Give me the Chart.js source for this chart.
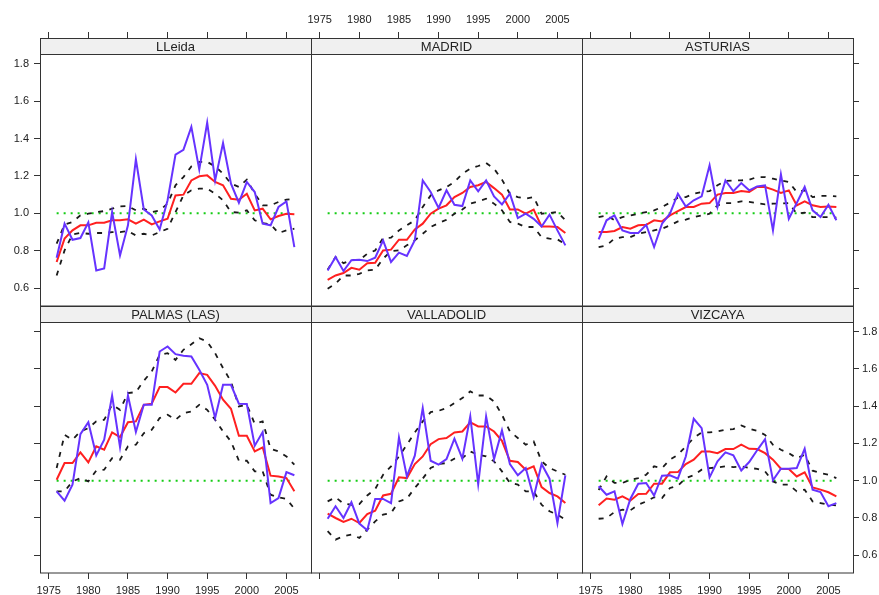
<!DOCTYPE html>
<html>
<head>
<meta charset="utf-8">
<script src="https://cdn.jsdelivr.net/npm/chart.js@4.4.0/dist/chart.umd.min.js"></script>
<style>
  html, body { margin: 0; padding: 0; background: #fff; }
  #wrap { position: relative; width: 879px; height: 595px; overflow: hidden; background: #fff; }
  #wrap canvas { position: absolute; left: 0; top: 0; }
</style>
</head>
<body>
<div id="wrap"></div>
<script>
// ---- data -------------------------------------------------------------
const YEARS = [1976,1977,1978,1979,1980,1981,1982,1983,1984,1985,1986,1987,1988,1989,1990,
               1991,1992,1993,1994,1995,1996,1997,1998,1999,2000,2001,2002,2003,2004,2005,2006];
const YEAR_TICKS  = [1975, 1980, 1985, 1990, 1995, 2000, 2005];
const VALUE_TICKS = [0.6, 0.8, 1.0, 1.2, 1.4, 1.6, 1.8];
const REF_LEVEL = 1.0;
const PANEL_NAMES = ['LLeida', 'MADRID', 'ASTURIAS', 'PALMAS (LAS)', 'VALLADOLID', 'VIZCAYA'];

const LLEIDA_OBS = [0.763,0.945,0.859,0.868,0.952,0.695,0.706,1.007,0.775,0.936,1.289,1.021,0.989,0.914,1.07,1.314,1.34,1.462,1.234,1.485,1.176,1.376,1.159,1.057,1.168,1.114,0.945,0.936,1.034,1.064,0.82];
const LLEIDA_FIT = [0.74,0.865,0.909,0.936,0.936,0.95,0.95,0.963,0.963,0.968,0.945,0.966,0.941,0.957,0.971,1.096,1.10,1.176,1.198,1.203,1.168,1.15,1.078,1.073,1.105,1.016,1.025,0.968,0.986,0.998,0.995];
const LLEIDA_UP  = [0.838,0.941,0.954,0.989,0.998,1.007,1.012,1.025,1.037,1.039,1.016,1.025,1.007,1.016,1.052,1.15,1.194,1.251,1.275,1.275,1.251,1.212,1.159,1.141,1.18,1.105,1.043,1.043,1.061,1.073,1.078];
const LLEIDA_LO  = [0.668,0.802,0.888,0.895,0.891,0.895,0.895,0.9,0.9,0.906,0.882,0.891,0.882,0.9,0.918,1.007,1.096,1.123,1.132,1.132,1.105,1.07,1.007,1.004,1.016,0.963,0.948,0.941,0.895,0.909,0.918];

const MADRID_OBS = [0.695,0.767,0.692,0.75,0.752,0.745,0.763,0.856,0.74,0.79,0.772,0.856,1.176,1.114,1.029,1.123,1.046,1.039,1.176,1.118,1.176,1.091,1.048,1.105,0.975,0.998,0.971,0.93,0.993,0.909,0.829];
const MADRID_FIT = [0.645,0.668,0.681,0.709,0.699,0.734,0.736,0.802,0.806,0.859,0.859,0.914,0.945,0.998,1.025,1.043,1.087,1.109,1.141,1.15,1.168,1.135,1.10,1.021,1.021,0.998,1.02,0.93,0.93,0.927,0.895];
const MADRID_UP  = [0.699,0.767,0.734,0.75,0.75,0.784,0.802,0.868,0.87,0.909,0.936,0.963,1.034,1.096,1.123,1.141,1.168,1.212,1.239,1.253,1.269,1.239,1.18,1.105,1.087,1.078,1.087,0.998,1.002,1.007,0.963];
const MADRID_LO  = [0.597,0.624,0.668,0.668,0.677,0.695,0.699,0.758,0.799,0.802,0.829,0.856,0.891,0.927,0.948,0.966,0.998,1.021,1.052,1.064,1.078,1.052,1.016,0.954,0.945,0.927,0.927,0.873,0.865,0.861,0.834];

const ASTURIAS_OBS = [0.861,0.963,0.989,0.909,0.895,0.895,0.939,0.82,0.945,0.998,1.105,1.037,1.07,1.091,1.257,1.034,1.176,1.118,1.162,1.123,1.144,1.15,0.909,1.209,0.971,1.055,1.141,1.016,0.98,1.046,0.963];
const ASTURIAS_FIT = [0.9,0.9,0.906,0.927,0.918,0.936,0.939,0.963,0.957,0.989,1.012,1.034,1.034,1.052,1.055,1.10,1.109,1.109,1.119,1.114,1.141,1.141,1.127,1.109,1.123,1.043,1.064,1.043,1.034,1.037,1.034];
const ASTURIAS_UP  = [0.98,0.989,0.963,0.98,0.989,0.998,1.007,1.016,1.034,1.057,1.084,1.087,1.105,1.114,1.119,1.15,1.173,1.176,1.176,1.18,1.194,1.194,1.185,1.176,1.168,1.114,1.123,1.087,1.093,1.093,1.091];
const ASTURIAS_LO  = [0.82,0.829,0.865,0.873,0.873,0.891,0.9,0.909,0.918,0.936,0.957,0.966,0.98,0.989,0.998,1.043,1.055,1.055,1.064,1.061,1.055,1.048,1.052,1.052,1.055,0.998,1.004,0.98,0.98,0.98,0.977];

const PALMAS_OBS = [0.943,0.893,0.979,1.25,1.314,1.136,1.22,1.457,1.18,1.457,1.261,1.407,1.407,1.693,1.72,1.679,1.67,1.666,1.595,1.514,1.336,1.514,1.514,1.413,1.411,1.188,1.261,0.88,0.907,1.046,1.029];
const PALMAS_FIT = [1.005,1.095,1.095,1.152,1.098,1.184,1.166,1.259,1.234,1.314,1.318,1.407,1.413,1.502,1.502,1.473,1.52,1.52,1.577,1.568,1.509,1.434,1.386,1.241,1.241,1.157,1.179,1.027,1.023,1.014,0.943];
const PALMAS_UP  = [1.068,1.246,1.22,1.264,1.282,1.318,1.327,1.407,1.38,1.47,1.475,1.536,1.586,1.675,1.684,1.648,1.702,1.732,1.764,1.746,1.684,1.604,1.532,1.398,1.407,1.305,1.318,1.171,1.157,1.13,1.086];
const PALMAS_LO  = [0.943,0.943,0.996,1.014,0.996,1.054,1.059,1.121,1.113,1.184,1.193,1.255,1.273,1.336,1.354,1.327,1.363,1.371,1.407,1.38,1.327,1.264,1.211,1.107,1.107,1.05,1.05,0.925,0.911,0.902,0.85];

const VALLADOLID_OBS = [0.796,0.863,0.8,0.884,0.77,0.734,0.902,0.902,0.88,1.232,1.023,1.134,1.389,1.107,1.086,1.116,1.225,1.118,1.345,0.982,1.345,1.116,1.27,1.089,1.029,1.068,0.911,1.089,1.011,0.773,1.029];
const VALLADOLID_FIT = [0.823,0.8,0.779,0.796,0.773,0.821,0.839,0.921,0.93,1.018,1.014,1.089,1.13,1.196,1.223,1.229,1.259,1.264,1.313,1.291,1.291,1.264,1.214,1.107,1.1,1.059,1.077,0.966,0.934,0.916,0.88];
const VALLADOLID_UP  = [0.889,0.911,0.877,0.871,0.875,0.921,0.955,1.032,1.077,1.13,1.193,1.259,1.318,1.368,1.375,1.389,1.416,1.443,1.479,1.457,1.457,1.425,1.354,1.264,1.229,1.193,1.211,1.104,1.068,1.05,1.032];
const VALLADOLID_LO  = [0.729,0.684,0.702,0.711,0.693,0.738,0.782,0.818,0.827,0.889,0.904,0.961,1.011,1.068,1.089,1.095,1.118,1.121,1.157,1.139,1.13,1.104,1.05,0.988,0.979,0.943,0.943,0.871,0.836,0.818,0.791];

const VIZCAYA_OBS = [0.97,0.925,0.943,0.768,0.902,0.984,0.988,0.92,1.027,1.029,1.011,1.13,1.332,1.282,1.018,1.104,1.152,1.136,1.055,1.1,1.163,1.223,1.002,1.064,1.064,1.068,1.171,0.952,0.939,0.863,0.88];
const VIZCAYA_FIT = [0.868,0.904,0.898,0.916,0.893,0.929,0.93,0.984,0.984,1.045,1.046,1.089,1.113,1.157,1.157,1.148,1.17,1.17,1.193,1.171,1.17,1.148,1.113,1.064,1.063,1.023,1.045,0.964,0.952,0.938,0.916];
const VIZCAYA_UP  = [0.95,1.023,0.988,0.988,1.005,1.014,1.032,1.077,1.068,1.113,1.139,1.184,1.229,1.259,1.259,1.264,1.273,1.277,1.296,1.279,1.268,1.246,1.193,1.166,1.148,1.121,1.139,1.054,1.041,1.032,1.014];
const VIZCAYA_LO  = [0.796,0.8,0.832,0.845,0.841,0.871,0.889,0.911,0.907,0.961,0.973,1.014,1.029,1.059,1.068,1.071,1.077,1.073,1.077,1.068,1.064,1.05,0.996,0.979,0.979,0.943,0.952,0.889,0.88,0.871,0.868];

// series per panel: [observed, fitted, upper band, lower band]
const PANEL_SERIES = [
  [LLEIDA_OBS, LLEIDA_FIT, LLEIDA_UP, LLEIDA_LO],
  [MADRID_OBS, MADRID_FIT, MADRID_UP, MADRID_LO],
  [ASTURIAS_OBS, ASTURIAS_FIT, ASTURIAS_UP, ASTURIAS_LO],
  [PALMAS_OBS, PALMAS_FIT, PALMAS_UP, PALMAS_LO],
  [VALLADOLID_OBS, VALLADOLID_FIT, VALLADOLID_UP, VALLADOLID_LO],
  [VIZCAYA_OBS, VIZCAYA_FIT, VIZCAYA_UP, VIZCAYA_LO]
];

// ---- layout -----------------------------------------------------------
const W = 879, H = 595;
const COL_EDGES = [40, 311, 582, 853];
const ROW_BOX = [[38, 306], [306, 573]];   // panel top (incl. strip) / bottom
const STRIP_H = 16;
const X_MIN = 1973.9, X_MAX = 2008.1;
const Y_MIN = 0.505, Y_MAX = 1.937;         // top includes the strip band
const FONT = "'Liberation Sans', Arial, Helvetica, sans-serif";
const INK = '#222';

const stripPlugin = {
  id: 'stripFrame',
  afterDraw(chart, args, opts) {
    const { ctx, chartArea: a } = chart;
    const w = a.right - a.left, h = a.bottom - a.top;
    ctx.save();
    ctx.fillStyle = '#f0f0f0';
    ctx.fillRect(a.left, a.top, w, STRIP_H);
    ctx.strokeStyle = '#333';
    ctx.lineWidth = 1;
    ctx.beginPath();
    ctx.moveTo(a.left, a.top + STRIP_H + 0.5);
    ctx.lineTo(a.right, a.top + STRIP_H + 0.5);
    ctx.stroke();
    ctx.strokeRect(a.left + 0.5, a.top + 0.5, w, h - 0.5);
    ctx.fillStyle = INK;
    ctx.font = '13px ' + FONT;
    ctx.textAlign = 'center';
    ctx.textBaseline = 'middle';
    ctx.fillText(opts.title, a.left + w / 2, a.top + STRIP_H / 2 + 1);
    ctx.restore();
  }
};

// outer axes take no layout space: the panel rectangle is fixed by the padding,
// tick marks and labels are drawn in the margin outside it
function makeAxis(position, show, withLabels, tickValues, fmt, min, max, pad) {
  return {
    type: 'linear',
    position: position,
    display: show,
    min: min,
    max: max,
    afterBuildTicks: s => { s.ticks = tickValues.map(v => ({ value: v })); },
    afterFit: s => {
      if (s.isHorizontal()) s.height = 0; else s.width = 0;
      s._computeLabelArea = () => null;   // no clipping of labels to the zero-size box
    },
    grid: { display: true, drawOnChartArea: false, drawTicks: true, tickLength: 6, color: '#333', lineWidth: 1 },
    border: { display: false },
    ticks: {
      display: withLabels, autoSkip: false, maxRotation: 0, minRotation: 0,
      padding: pad, color: INK, font: { family: FONT, size: 11 },
      callback: fmt
    }
  };
}

const fmtYear = v => String(v);
const fmtVal = v => Number(v).toFixed(1);
const toPts = vals => YEARS.map((yr, i) => ({ x: yr, y: vals[i] }));

const wrap = document.getElementById('wrap');
PANEL_NAMES.forEach((name, p) => {
  const row = Math.floor(p / 3), col = p % 3;
  const [obs, fit, up, lo] = PANEL_SERIES[p];
  const cv = document.createElement('canvas');
  cv.width = W; cv.height = H;
  cv.style.width = W + 'px'; cv.style.height = H + 'px';
  wrap.appendChild(cv);

  new Chart(cv, {
    type: 'line',
    data: {
      datasets: [
        { data: toPts(obs), borderColor: '#6633ff', borderWidth: 2, order: 1 },
        { data: toPts(fit), borderColor: '#ff2020', borderWidth: 2, order: 2 },
        { data: toPts(up), borderColor: '#1a1a1a', borderWidth: 1.8, borderDash: [5, 6.5], order: 3 },
        { data: toPts(lo), borderColor: '#1a1a1a', borderWidth: 1.8, borderDash: [5, 6.5], order: 3 },
        { data: [{ x: YEARS[0], y: REF_LEVEL }, { x: YEARS[YEARS.length - 1], y: REF_LEVEL }],
          borderColor: '#14cc14', borderWidth: 2, borderDash: [2, 5], order: 4 }
      ]
    },
    options: {
      responsive: false,
      animation: false,
      devicePixelRatio: 1,
      events: [],
      layout: {
        autoPadding: false,
        padding: { left: COL_EDGES[col], right: W - COL_EDGES[col + 1], top: ROW_BOX[row][0], bottom: H - ROW_BOX[row][1] }
      },
      elements: { point: { radius: 0 }, line: { tension: 0, fill: false, borderCapStyle: 'butt' } },
      plugins: { legend: { display: false }, tooltip: { enabled: false }, stripFrame: { title: name } },
      scales: {
        x:      makeAxis('bottom', row === 1, col !== 1, YEAR_TICKS, fmtYear, X_MIN, X_MAX, 5),
        xTop:   makeAxis('top',    row === 0, col === 1, YEAR_TICKS, fmtYear, X_MIN, X_MAX, 5),
        y:      makeAxis('left',   col === 0, row === 0, VALUE_TICKS, fmtVal, Y_MIN, Y_MAX, 5),
        yRight: makeAxis('right',  col === 2, row === 1, VALUE_TICKS, fmtVal, Y_MIN, Y_MAX, 3)
      }
    },
    plugins: [stripPlugin]
  });
});
</script>
</body>
</html>
